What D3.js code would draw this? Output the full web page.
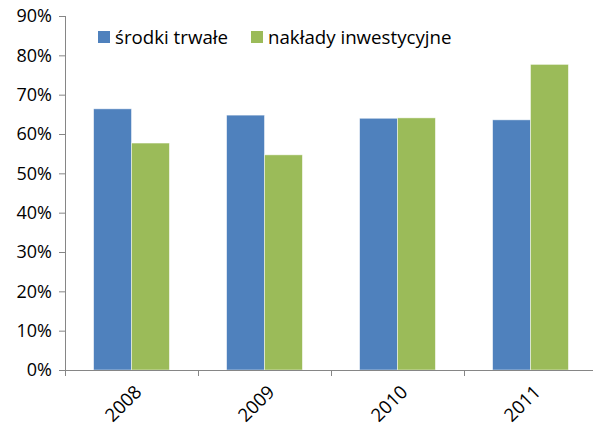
<!DOCTYPE html>
<html>
<head>
<meta charset="utf-8">
<script src="https://cdn.jsdelivr.net/npm/d3@7"></script>
<style>
  body { margin: 0; background: #fff; }
  text { font-family: "Open Sans", sans-serif; fill: #000; }
</style>
</head>
<body>
<div class="myChart"></div>
<script>
const years = ["2008", "2009", "2010", "2011"];
const seriesNames = ["środki trwałe", "nakłady inwestycyjne"];
const srodkiTrwale = [66.4, 64.8, 64.0, 63.6];
const nakladyInwestycyjne = [57.7, 54.7, 64.1, 77.7];
const yTicks = [0, 10, 20, 30, 40, 50, 60, 70, 80, 90];
const colors = ["#4F81BD", "#9BBB59"];

const width = 593, height = 430;
const margin = {top: 16, right: -4, bottom: 60, left: 65};
const w = width - margin.left - margin.right;
const h = 370 - margin.top;

const svg = d3.select(".myChart").append("svg")
    .attr("width", width).attr("height", height);
const g = svg.append("g")
    .attr("transform", "translate(" + margin.left + "," + margin.top + ")");

const x = d3.scaleBand().domain(years).range([0, w]).paddingInner(0.43).paddingOuter(0.215);
const xCat = d3.scaleBand().domain(years).range([0, w]);
const x1 = d3.scaleBand().domain([0, 1]).range([0, x.bandwidth()]);
const y = d3.scaleLinear().domain([0, 90]).range([h, 0]);

const data = years.map((yr, i) => ({year: yr, values: [srodkiTrwale[i], nakladyInwestycyjne[i]]}));

// bars
g.selectAll(".grp")
    .data(data)
    .enter().append("g")
    .attr("transform", d => "translate(" + x(d.year) + ",0)")
    .selectAll("rect")
    .data(d => d.values.map((v, k) => ({v, k})))
    .enter().append("rect")
    .attr("x", d => x1(d.k))
    .attr("y", d => y(d.v))
    .attr("width", x1.bandwidth())
    .attr("height", d => h - y(d.v))
    .attr("fill", d => colors[d.k])
    .attr("stroke", "#fff")
    .attr("stroke-opacity", 0.6)
    .attr("stroke-width", 0.8);

// y axis
const yAxis = g.append("g")
    .call(d3.axisLeft(y).tickValues(yTicks).tickSize(6).tickFormat(d => d + "%"));
yAxis.select(".domain").attr("stroke", "#868686").attr("d", "M0.5," + h + "V0");
yAxis.selectAll(".tick line").attr("stroke", "#868686");
yAxis.selectAll(".tick text").attr("x", -13).style("font-size", "18px").attr("fill", "#000");

// x axis
const xAxis = g.append("g")
    .attr("transform", "translate(0," + h + ")");
xAxis.append("line")
    .attr("x1", 0).attr("x2", w).attr("y1", 0.5).attr("y2", 0.5)
    .attr("stroke", "#868686");
xAxis.selectAll(".xt")
    .data(years.concat(["end"]))
    .enter().append("line")
    .attr("x1", (d, i) => Math.round(i * xCat.bandwidth()) + 0.5)
    .attr("x2", (d, i) => Math.round(i * xCat.bandwidth()) + 0.5)
    .attr("y1", 0).attr("y2", 6)
    .attr("stroke", "#868686");
xAxis.selectAll(".xl")
    .data(years)
    .enter().append("text")
    .attr("transform", d => "translate(" + (xCat(d) + xCat.bandwidth() / 2 + 2) + ",14) rotate(-45)")
    .attr("text-anchor", "end")
    .attr("dy", "0.7em")
    .style("font-size", "18.5px")
    .text(d => d);

// legend
const legend = svg.append("g");
const legendX = [98, 251];
seriesNames.forEach((name, i) => {
    legend.append("rect")
        .attr("x", legendX[i]).attr("y", 31)
        .attr("width", 12).attr("height", 12)
        .attr("fill", colors[i]);
    legend.append("text")
        .attr("x", legendX[i] + 17).attr("y", 44)
        .style("font-size", "18.7px")
        .text(name);
});
</script>
</body>
</html>
